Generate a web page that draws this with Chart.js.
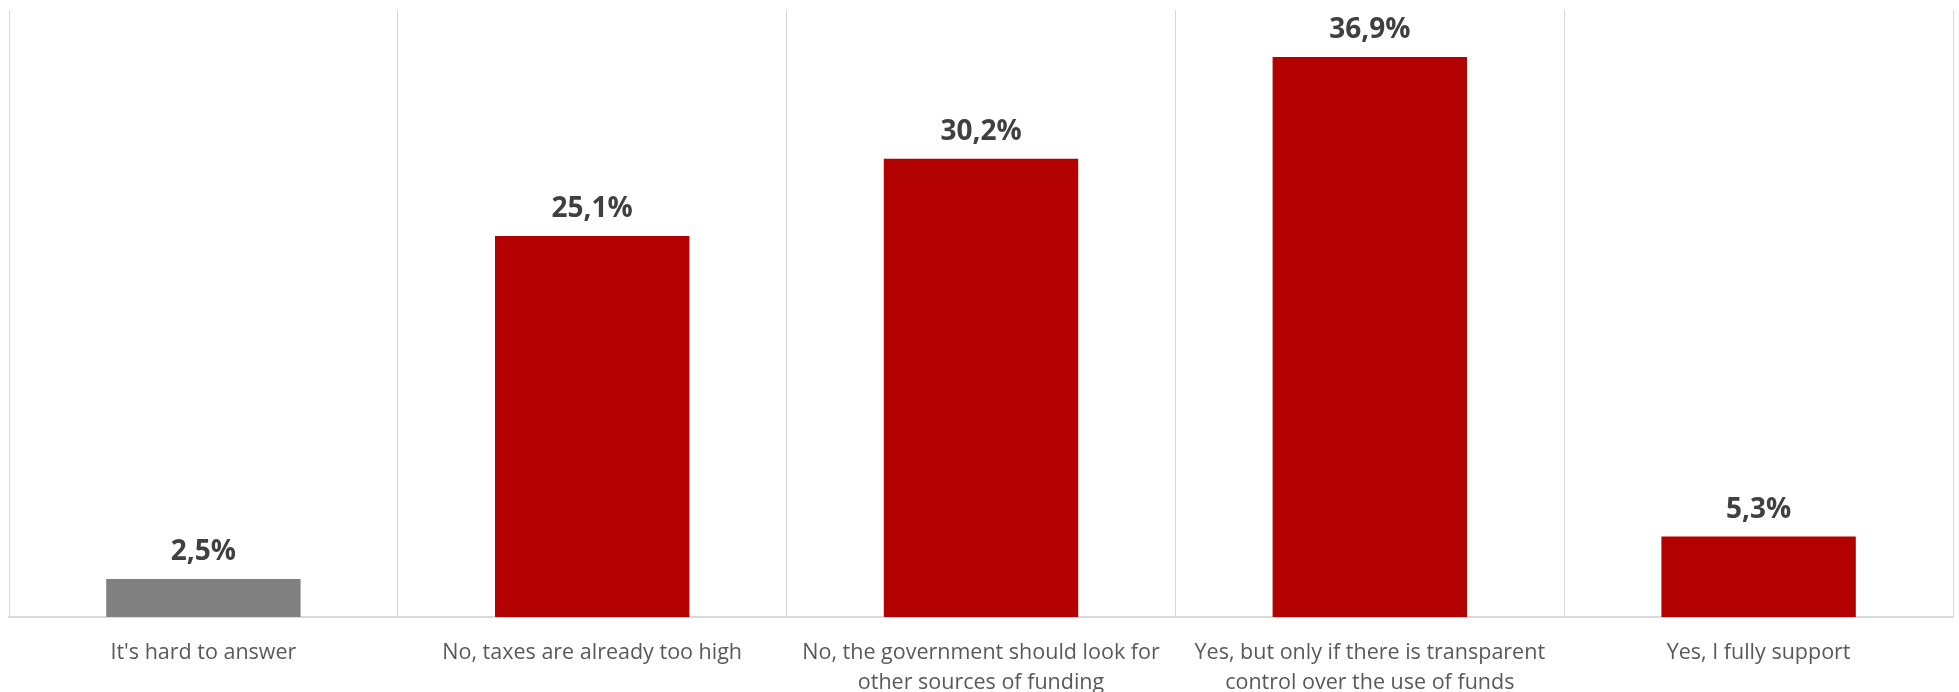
<!DOCTYPE html>
<html>
<head>
<meta charset="utf-8">
<script src="https://cdn.jsdelivr.net/npm/chart.js@4/dist/chart.umd.min.js"></script>
<style>
  html, body { margin: 0; padding: 0; background: #ffffff; }
  #wrap { width: 1959px; height: 692px; position: relative; }
</style>
</head>
<body>
<div id="wrap"><canvas id="c" width="1959" height="692"></canvas></div>
<script>
const categories = [
  "It's hard to answer",
  "No, taxes are already too high",
  ["No, the government should look for", "other sources of funding"],
  ["Yes, but only if there is transparent", "control over the use of funds"],
  "Yes, I fully support"
];
const values = [2.5, 25.1, 30.2, 36.9, 5.3];
const barColors = ["#808080", "#B30000", "#B30000", "#B30000", "#B30000"];
const valueLabels = ["2,5%", "25,1%", "30,2%", "36,9%", "5,3%"];

const labelPlugin = {
  id: 'valueLabels',
  afterDatasetsDraw(chart) {
    const ctx = chart.ctx;
    const meta = chart.getDatasetMeta(0);
    ctx.save();
    ctx.font = 'bold 28px "Open Sans", sans-serif';
    ctx.fillStyle = '#404040';
    ctx.textAlign = 'center';
    ctx.textBaseline = 'alphabetic';
    meta.data.forEach((bar, i) => {
      ctx.fillText(valueLabels[i], bar.x, bar.y - 19);
    });
    ctx.restore();
  }
};

new Chart(document.getElementById('c'), {
  type: 'bar',
  data: {
    labels: categories,
    datasets: [{
      data: values,
      backgroundColor: barColors,
      borderWidth: 0,
      categoryPercentage: 1,
      barPercentage: 0.5
    }]
  },
  options: {
    responsive: false,
    animation: false,
    devicePixelRatio: 1,
    layout: { padding: { left: 9, right: 6, top: 10, bottom: 0 } },
    plugins: { legend: { display: false }, tooltip: { enabled: false } },
    scales: {
      y: { display: false, min: 0, max: 40 },
      x: {
        offset: true,
        grid: { display: true, offset: true, color: '#d9d9d9', lineWidth: 1, drawTicks: false },
        border: { display: true, color: '#d9d9d9', width: 2 },
        ticks: {
          color: '#595959',
          font: { family: '"Open Sans", sans-serif', size: 21.5, lineHeight: 1.4 },
          maxRotation: 0, minRotation: 0, autoSkip: false,
          padding: 21
        },
        afterFit(scale) { scale.height = 75; }
      }
    }
  },
  plugins: [labelPlugin]
});
</script>
</body>
</html>
